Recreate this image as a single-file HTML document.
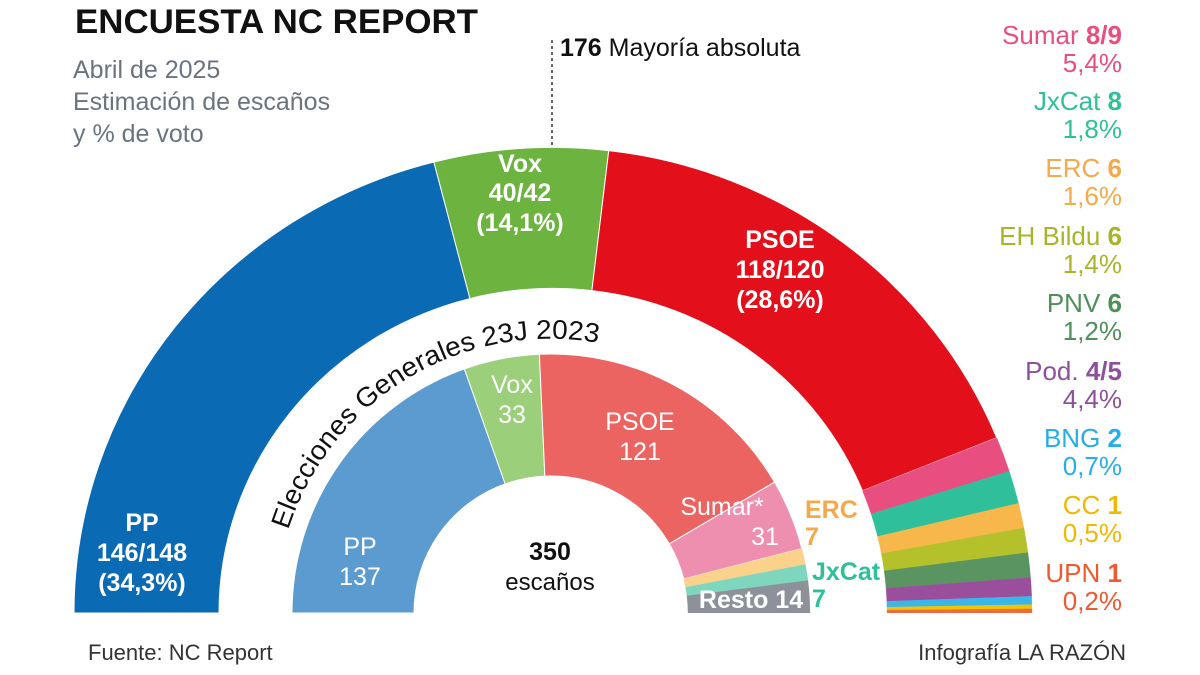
<!DOCTYPE html>
<html><head><meta charset="utf-8"><style>
body{margin:0;width:1200px;height:675px;background:#fff;overflow:hidden;font-family:"Liberation Sans",sans-serif}
svg{position:absolute;left:0;top:0}
</style></head><body>
<svg width="1200" height="675" viewBox="0 0 1200 675" id="s" font-family="Liberation Sans, sans-serif">
<defs><clipPath id="c"><rect x="0" y="0" width="1200" height="613"/></clipPath>
<path id="tp2" d="M 288.2 529.9 A 275 275 0 0 1 645 355.6" fill="none"/></defs>
<g clip-path="url(#c)"><g id="arcs1" transform="translate(553 613) scale(1 0.972) translate(-553 -613)"></g><g id="arcs2"></g></g>
<text x="75" y="33" font-size="34" font-weight="bold" fill="#111" textLength="403" lengthAdjust="spacingAndGlyphs">ENCUESTA NC REPORT</text>
<g font-size="25" fill="#6b7280"><text x="73" y="78">Abril de 2025</text><text x="73" y="110">Estimación de escaños</text><text x="73" y="142">y % de voto</text></g>
<line x1="552" y1="40" x2="552" y2="148" stroke="#333" stroke-width="1.5" stroke-dasharray="3,3"/>
<text x="560" y="56" font-size="25" fill="#111"><tspan font-weight="bold">176</tspan> Mayoría absoluta</text>
<g font-size="25" font-weight="bold" fill="#fff" text-anchor="middle">
<text x="520" y="172">Vox</text><text x="520" y="201">40/42</text><text x="520" y="231">(14,1%)</text>
<text x="780" y="248">PSOE</text><text x="780" y="278">118/120</text><text x="780" y="308">(28,6%)</text>
<text x="142" y="531">PP</text><text x="142" y="561">146/148</text><text x="142" y="591">(34,3%)</text>
</g>
<g font-size="25" fill="#fff" text-anchor="middle">
<text x="512" y="393">Vox</text><text x="512" y="423">33</text>
<text x="640" y="430">PSOE</text><text x="640" y="460">121</text>
<text x="360" y="555">PP</text><text x="360" y="585">137</text>
<text x="722" y="515">Sumar*</text><text x="765" y="545">31</text>
<text x="751" y="608" font-weight="bold">Resto 14</text>
</g>
<g font-size="25" font-weight="bold">
<text x="805" y="518" fill="#f5a94a">ERC</text><text x="805" y="545" fill="#f5a94a">7</text>
<text x="812" y="580" fill="#2fbf9a">JxCat</text><text x="812" y="607" fill="#2fbf9a">7</text>
</g>
<text font-size="27" fill="#111"><textPath href="#tp2" textLength="395" lengthAdjust="spacingAndGlyphs">Elecciones Generales 23J 2023</textPath></text>
<text x="550" y="560" font-size="25" font-weight="bold" text-anchor="middle" fill="#111">350</text>
<text x="550" y="590" font-size="24" text-anchor="middle" fill="#111">escaños</text>
<text x="88" y="660" font-size="22" fill="#333">Fuente: NC Report</text>
<text x="1126" y="660" font-size="22" fill="#333" text-anchor="end">Infografía LA RAZÓN</text>
<g font-size="26" text-anchor="end">
<text x="1122" y="44" fill="#e84e7f">Sumar <tspan font-weight="bold">8/9</tspan></text><text x="1122" y="72" fill="#e84e7f">5,4%</text>
<text x="1122" y="110" fill="#2fbf9a">JxCat <tspan font-weight="bold">8</tspan></text><text x="1122" y="138" fill="#2fbf9a">1,8%</text>
<text x="1122" y="177" fill="#f5a94a">ERC <tspan font-weight="bold">6</tspan></text><text x="1122" y="205" fill="#f5a94a">1,6%</text>
<text x="1122" y="245" fill="#a8b52a">EH Bildu <tspan font-weight="bold">6</tspan></text><text x="1122" y="273" fill="#a8b52a">1,4%</text>
<text x="1122" y="312" fill="#4f8f5a">PNV <tspan font-weight="bold">6</tspan></text><text x="1122" y="340" fill="#4f8f5a">1,2%</text>
<text x="1122" y="380" fill="#8e4f9c">Pod. <tspan font-weight="bold">4/5</tspan></text><text x="1122" y="408" fill="#8e4f9c">4,4%</text>
<text x="1122" y="447" fill="#28aee6">BNG <tspan font-weight="bold">2</tspan></text><text x="1122" y="475" fill="#28aee6">0,7%</text>
<text x="1122" y="514" fill="#f0b800">CC <tspan font-weight="bold">1</tspan></text><text x="1122" y="542" fill="#f0b800">0,5%</text>
<text x="1122" y="582" fill="#ee5a2f">UPN <tspan font-weight="bold">1</tspan></text><text x="1122" y="610" fill="#ee5a2f">0,2%</text>
</g>
</svg>
<script>
function ring(cx,cy,R,r,data){var c=0,out='';data.forEach(function(d){var a0=Math.PI-Math.PI*c/350;c+=d[0];var a1=Math.PI-Math.PI*c/350;
function p(rad,a){return (cx+rad*Math.cos(a)).toFixed(2)+' '+(cy-rad*Math.sin(a)).toFixed(2)}
out+='<path d="M '+p(R,a0)+' A '+R+' '+R+' 0 0 1 '+p(R,a1)+' L '+p(r,a1)+' A '+r+' '+r+' 0 0 0 '+p(r,a0)+' Z" fill="'+d[1]+'" stroke="'+(d[2]?d[1]:'#fff')+'" stroke-width="'+(d[2]?0.3:1)+'"/>';});return out;}
document.getElementById('arcs1').innerHTML=ring(553,613,479,334,[[147,'#0a6ab4'],[41,'#6cb33f'],[119,'#e30f1b'],[8.5,'#e84e7f',1],[8,'#2fbf9a',1],[6,'#f8b74b',1],[6,'#b5c12a',1],[6,'#5a9460',1],[4.5,'#9a4f9c',1],[2,'#39b7e9',1],[1,'#f5c400',1],[1,'#ee6a3f',1]]);
document.getElementById('arcs2').innerHTML=ring(551,613,259,137,[[137,'#5b9bd0'],[33,'#9bcf7a'],[121,'#ec6462'],[31,'#ef8fb0'],[7,'#fbd28c',1],[7,'#7fd6be',1],[14,'#8d9199',1]]);
</script>
</body></html>
